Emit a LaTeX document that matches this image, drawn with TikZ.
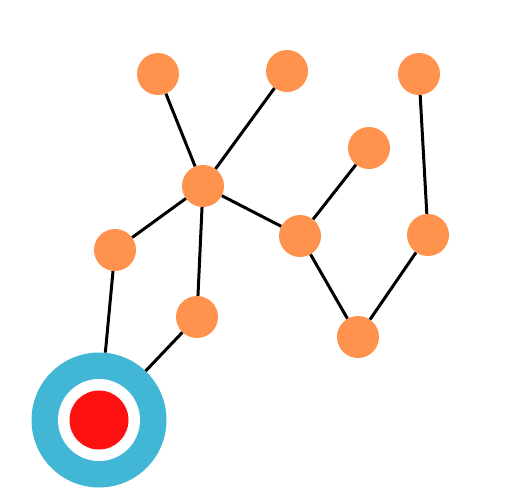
\documentclass[tikz,border=0pt]{standalone}
\definecolor{nodeorange}{RGB}{255,146,77}
\definecolor{rootblue}{RGB}{66,183,213}
\definecolor{rootred}{RGB}{255,16,16}
\tikzset{
  leaf/.style={circle,fill=nodeorange,minimum size=42pt,inner sep=0pt},
  edge/.style={line width=3pt,black},
}
\begin{document}
\begin{tikzpicture}[x=1pt,y=-1pt]
\useasboundingbox (0,0) rectangle (506,493);
\node[leaf] (A) at (158,74) {};
\node[leaf] (B) at (287,71) {};
\node[leaf] (C) at (419,74) {};
\node[leaf] (D) at (369,148) {};
\node[leaf] (E) at (203,186) {};
\node[leaf] (F) at (115,250) {};
\node[leaf] (G) at (300,236) {};
\node[leaf] (H) at (428,235) {};
\node[leaf] (I) at (197,317) {};
\node[leaf] (J) at (358,337) {};
\node[circle,fill=rootblue,minimum size=135pt,inner sep=0pt] (R) at (99,420) {};
\node[circle,fill=white,minimum size=82pt,inner sep=0pt] (RW) at (99,420) {};
\node[circle,fill=rootred,minimum size=59pt,inner sep=0pt] (RR) at (99,420) {};
\begin{scope}[on background layer/.try]
\end{scope}
\draw[edge] (A) -- (E);
\draw[edge] (B) -- (E);
\draw[edge] (E) -- (F);
\draw[edge] (E) -- (G);
\draw[edge] (E) -- (I);
\draw[edge] (F) -- (R);
\draw[edge] (I) -- (R);
\draw[edge] (G) -- (D);
\draw[edge] (G) -- (J);
\draw[edge] (J) -- (H);
\draw[edge] (H) -- (C);
\end{tikzpicture}
\end{document}
